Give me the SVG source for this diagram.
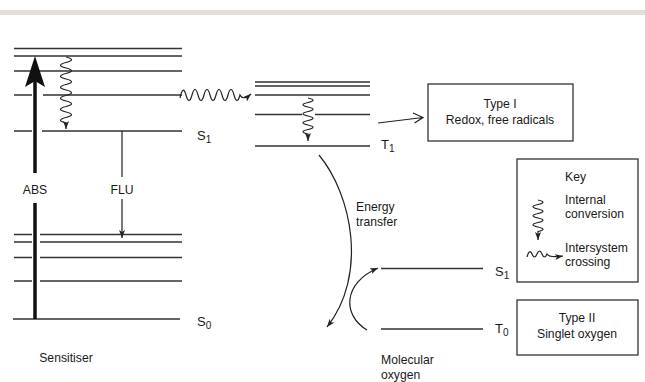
<svg xmlns="http://www.w3.org/2000/svg" width="645" height="382" viewBox="0 0 645 382">
<defs>
<style>
.lv{stroke:#333;stroke-width:1.4;fill:none}
.ln{stroke:#222;stroke-width:1.2;fill:none}
.t{font-family:"Liberation Sans",Arial,sans-serif;font-size:12.2px;fill:#1a1a1a}
.lab{font-family:"Liberation Sans",Arial,sans-serif;font-size:13px;fill:#1a1a1a}
.box{fill:#fff;stroke:#333;stroke-width:1.3}
</style>
<marker id="ah" markerUnits="userSpaceOnUse" markerWidth="10" markerHeight="8" refX="8" refY="3" orient="auto">
<path d="M0,0 L8,3 L0,6 L2,3 z" fill="#222"/>
</marker>
</defs>
<rect x="0" y="0" width="645" height="382" fill="#fff"/>
<rect x="0" y="10" width="645" height="5" fill="#e2dfd6"/>

<g id="sensitiser">
<path class="lv" d="M14,48.5H182 M14,56H182 M14,71H182 M14,95H32 M43,95H182 M14,131H32 M42,131H182"/>
<path class="lv" d="M14,234.5H32 M40,234.5H182 M14,242H32 M40,242H182 M14,257.5H32 M40,257.5H182 M14,281H32 M40,281H182 M13,319H180"/>
<text class="lab" x="197" y="140">S<tspan font-size="10" dy="3">1</tspan></text>
<text class="lab" x="197" y="326">S<tspan font-size="10" dy="3">0</tspan></text>
<text class="t" x="66" y="362" text-anchor="middle">Sensitiser</text>
</g>

<g id="abs">
<path d="M35,80V173 M35,203V319" stroke="#111" stroke-width="3.5" fill="none"/>
<path d="M35,56 L45,87 L35,81 L25,87 z" fill="#111"/>
<text class="t" x="35" y="194" text-anchor="middle">ABS</text>
</g>

<g id="flu">
<path class="ln" d="M122,131V177 M122,199V238" marker-end="url(#ah)"/>
<text class="t" x="122" y="194" text-anchor="middle">FLU</text>
</g>

<g id="ic-sens">
<path class="ln" d="M66,57 Q77,59.75 66,62.5 T66,68 T66,73.5 T66,79 T66,84.5 T66,90 T66,95.5 T66,101 T66,106.5 T66,112 T66,117.5 T66,123 L66,129" marker-end="url(#ah)"/>
</g>

<g id="isc">
<path class="ln" d="M180,98 Q183,84 186,95 T192,95 T198,95 T204,95 T210,95 T216,95 T222,95 T228,95 T234,95 T240,95 Q243,101 251,94" marker-end="url(#ah)"/>
</g>

<g id="triplet">
<path class="lv" d="M255,82H370 M255,86H370 M255,95H370 M255,114.5H302 M315,114.5H370 M255,146H370"/>
<path class="ln" d="M308,98 Q318,100.25 308,102.5 T308,107 T308,111.5 T308,116 T308,120.5 T308,125 T308,129.5 T308,134 L308,141" marker-end="url(#ah)"/>
<text class="lab" x="381" y="149">T<tspan font-size="10" dy="3">1</tspan></text>
</g>

<g id="type1-arrow">
<path class="ln" d="M378,123 L423,117.5 M413,113 L423,117.5 L414.5,123"/>
</g>

<g id="type1">
<rect class="box" x="428" y="84" width="145" height="57"/>
<text class="t" x="500" y="108" text-anchor="middle">Type I</text>
<text class="t" x="500" y="124" text-anchor="middle">Redox, free radicals</text>
</g>

<g id="energy-transfer">
<path class="ln" d="M319,155 C352,195 368,275 327,327" marker-end="url(#ah)"/>
<text class="t" x="356" y="211">Energy</text>
<text class="t" x="356" y="226">transfer</text>
</g>

<g id="oxygen">
<path class="lv" d="M381,268.5H483 M381,329H483"/>
<path class="ln" d="M367,330 C342,315 343,283 378,268" marker-end="url(#ah)"/>
<text class="lab" x="495" y="276">S<tspan font-size="10" dy="3">1</tspan></text>
<text class="lab" x="495" y="333">T<tspan font-size="10" dy="3">0</tspan></text>
<text class="t" x="381" y="364">Molecular</text>
<text class="t" x="381" y="379">oxygen</text>
</g>

<g id="key">
<rect class="box" x="517" y="159" width="121" height="123"/>
<text class="t" x="565" y="181">Key</text>
<text class="t" x="565" y="204">Internal</text>
<text class="t" x="565" y="218">conversion</text>
<text class="t" x="565" y="252">Intersystem</text>
<text class="t" x="565" y="266">crossing</text>
<path class="ln" d="M538,200 Q548,202.25 538,204.5 T538,209 T538,213.5 T538,218 T538,222.5 T538,227 T538,231.5 L538,240" marker-end="url(#ah)"/>
<path class="ln" d="M527,257 Q529.5,248 532,254 T537,254 T542,254 T547,254 Q549,258 563,256" marker-end="url(#ah)"/>
</g>

<g id="type2">
<rect class="box" x="517" y="300" width="121" height="55"/>
<text class="t" x="577" y="322" text-anchor="middle">Type II</text>
<text class="t" x="577" y="338" text-anchor="middle">Singlet oxygen</text>
</g>
</svg>
